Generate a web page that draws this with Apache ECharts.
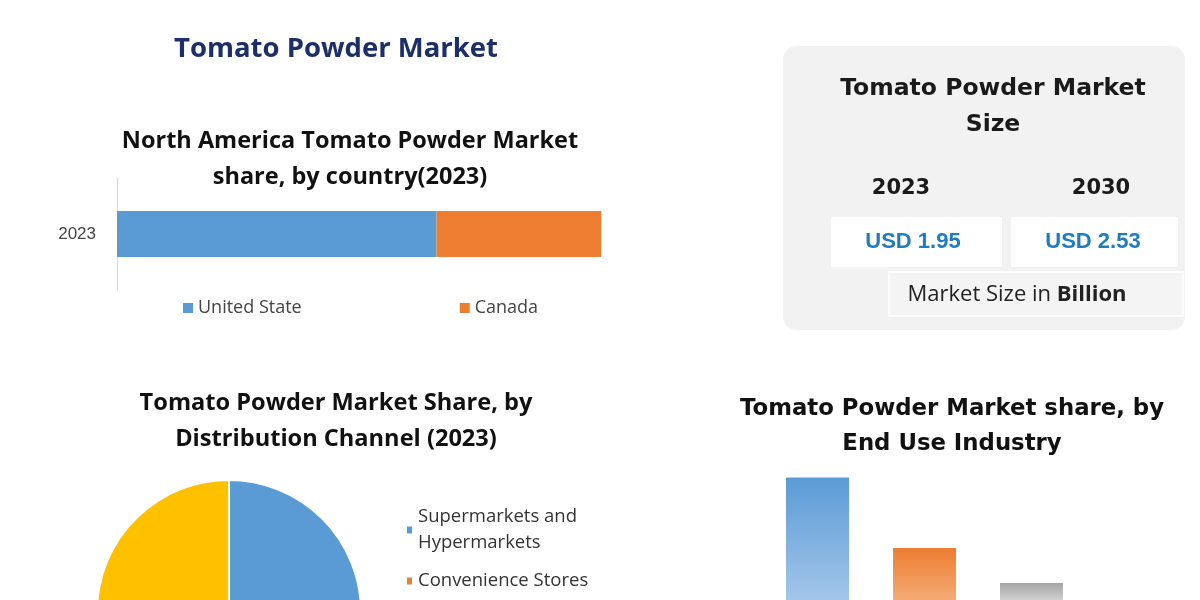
<!DOCTYPE html>
<html>
<head>
<meta charset="utf-8">
<title>Tomato Powder Market</title>
<script src="https://cdn.jsdelivr.net/npm/echarts@6/dist/echarts.min.js"></script>
<style>
  html, body { margin: 0; padding: 0; background: #fff; }
  #main { width: 1200px; height: 600px; }
</style>
</head>
<body>
<div id="main"></div>
<script>
// north america share by country
const countryYears = ['2023']
const countryNames = ['United State', 'Canada']
const countryShare = [66, 34]

// market size box
const sizeYears = ['2023', '2030']
const sizeValues = [1.95, 2.53]

// distribution channel pie
const channelNames = ['Supermarkets and Hypermarkets', 'Convenience Stores', 'Online Stores', 'Others']
const channelShare = [42, 18, 12, 28]

// end use industry bars
const industryNames = ['Food', 'Beverages', 'Others']
const industryShare = [48, 29.5, 20.3]

const colors = ['#5b9bd5', '#ed7d31', '#a5a5a5', '#ffc000']
const lightColors = ['#a3c6e9', '#f4ab76', '#cfcfcf']

const titleFont = 'Open Sans'

const chart = echarts.init(document.getElementById('main'))

const boxLeft = 783, boxTop = 46
const graphic = [
  { type: 'rect', shape: { x: boxLeft, y: boxTop, width: 402, height: 284, r: 14 }, style: { fill: '#f2f2f2' }, z: 0 },
  { type: 'text', style: { text: 'Tomato Powder Market\nSize', x: 993, y: 107, align: 'center', verticalAlign: 'middle',
      font: 'bold 23.5px "DejaVu Sans"', fill: '#1a1a1a', lineHeight: 36 } }
]
sizeYears.forEach((yr, i) => {
  const cx = i === 0 ? 913 : 1093
  graphic.push({ type: 'text', style: { text: yr, x: i === 0 ? 901 : 1101, y: 189, align: 'center', verticalAlign: 'middle',
    font: 'bold 21px "DejaVu Sans"', fill: '#1a1a1a' } })
  graphic.push({ type: 'rect', shape: { x: i === 0 ? 831 : 1011, y: 217, width: i === 0 ? 171 : 167, height: 50 },
    style: { fill: '#ffffff' } })
  graphic.push({ type: 'text', style: { text: 'USD ' + sizeValues[i], x: cx, y: 242, align: 'center', verticalAlign: 'middle',
    font: 'bold 22px "Liberation Sans"', fill: '#1f7cc1' } })
})
graphic.push({ type: 'rect', shape: { x: 889, y: 272, width: 294, height: 44 },
  style: { fill: '#f4f4f4', stroke: '#ffffff', lineWidth: 1.5 } })
graphic.push({ type: 'text', style: {
  text: '{n|Market Size in }{b|Billion}', x: 1017, y: 295, align: 'center', verticalAlign: 'middle',
  rich: {
    n: { font: '22px "Open Sans"', fill: '#222' },
    b: { font: 'bold 22px "Open Sans"', fill: '#222' }
  } } })

chart.setOption({
  animation: false,
  color: colors,
  title: [
    { text: 'Tomato Powder Market', left: 331, top: 30, textAlign: 'center',
      textStyle: { fontFamily: titleFont, fontWeight: 'bold', fontSize: 27.5, color: '#1c2f6a' } },
    { text: 'North America Tomato Powder Market\nshare, by country(2023)', left: 345, top: 118, textAlign: 'center',
      textStyle: { fontFamily: titleFont, fontWeight: 'bold', fontSize: 23.5, lineHeight: 36, color: '#111' } },
    { text: 'Tomato Powder Market Share, by\nDistribution Channel (2023)', left: 331, top: 380, textAlign: 'center',
      textStyle: { fontFamily: titleFont, fontWeight: 'bold', fontSize: 23.6, lineHeight: 36, color: '#111' } },
    { text: 'Tomato Powder Market share, by\nEnd Use Industry', left: 947, top: 387, textAlign: 'center',
      textStyle: { fontFamily: 'DejaVu Sans', fontWeight: 'bold', fontSize: 22.8, lineHeight: 35, color: '#111' } }
  ],
  legend: [
    { data: countryNames, left: 178, top: 294, itemGap: 158, itemWidth: 10, itemHeight: 10, icon: 'rect',
      textStyle: { fontFamily: 'Open Sans', fontSize: 18, color: '#444' } },
    { data: channelNames, orient: 'vertical', left: 400, top: 499, height: 400, itemGap: 12, itemWidth: 7, itemHeight: 9, icon: 'rect',
      formatter: name => name.replace('Supermarkets and ', 'Supermarkets and\n'),
      textStyle: { fontFamily: 'Open Sans', fontSize: 18.5, lineHeight: 26, color: '#333' } }
  ],
  grid: [
    { left: 117, width: 484, top: 178, height: 112 },
    { left: 764, width: 321, top: 432, height: 168 }
  ],
  xAxis: [
    { gridIndex: 0, type: 'value', min: 0, max: 100, show: false },
    { gridIndex: 1, type: 'category', data: industryNames, show: false }
  ],
  yAxis: [
    { gridIndex: 0, type: 'category', data: countryYears,
      axisLine: { show: true, lineStyle: { color: '#d9d9d9' } }, axisTick: { show: false },
      axisLabel: { fontFamily: 'Liberation Sans', fontSize: 17, color: '#444', margin: 21 } },
    // the baseline of this chart lies below the picture edge, so the visible window starts above zero
    { gridIndex: 1, type: 'value', min: 15.8, max: 60, show: false }
  ],
  series: [
    ...countryNames.map((name, i) => ({
      name, type: 'bar', stack: 'country', xAxisIndex: 0, yAxisIndex: 0,
      barWidth: 46, data: [countryShare[i]], itemStyle: { color: colors[i] }
    })),
    {
      type: 'pie', center: [229, 612], radius: 132, startAngle: 90, clockwise: true,
      label: { show: false }, labelLine: { show: false },
      itemStyle: { borderColor: '#fff', borderWidth: 2 },
      data: channelNames.map((name, i) => ({ name, value: channelShare[i] }))
    },
    {
      type: 'bar', xAxisIndex: 1, yAxisIndex: 1, barWidth: 63,
      data: industryShare.map((v, i) => ({
        value: v,
        itemStyle: { color: new echarts.graphic.LinearGradient(0, 0, 0, 1, [
          { offset: 0, color: colors[i] }, { offset: 1, color: lightColors[i] }
        ]) }
      }))
    }
  ],
  graphic
})
</script>
</body>
</html>
